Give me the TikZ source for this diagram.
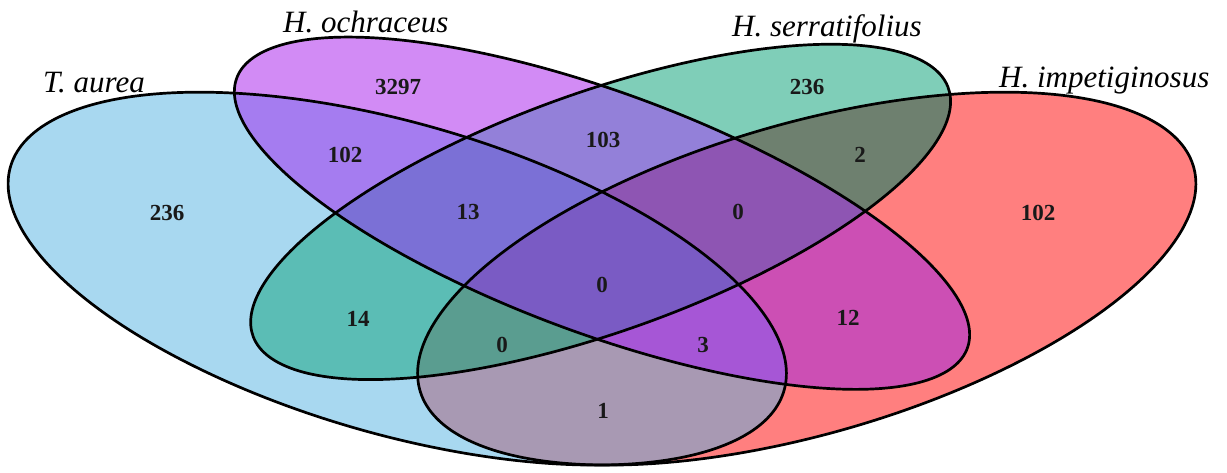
\documentclass[tikz,border=0pt]{standalone}
\usepackage{fontspec}
\setmainfont{Liberation Serif}
\definecolor{cA}{HTML}{A8D8F0}
\definecolor{cB}{HTML}{D28BF5}
\definecolor{cC}{HTML}{7FCEB8}
\definecolor{cD}{HTML}{FF7F7F}
\definecolor{cAB}{HTML}{A57CF0}
\definecolor{cAC}{HTML}{5BBDB5}
\definecolor{cAD}{HTML}{A899B3}
\definecolor{cBC}{HTML}{9380D9}
\definecolor{cBD}{HTML}{CC4FB4}
\definecolor{cCD}{HTML}{6E806F}
\definecolor{cABC}{HTML}{7B70D6}
\definecolor{cABD}{HTML}{A656D6}
\definecolor{cACD}{HTML}{5A9D90}
\definecolor{cBCD}{HTML}{8E55B3}
\definecolor{cABCD}{HTML}{7A5BC4}
\begin{document}
\begin{tikzpicture}[x=1pt,y=1pt,
  ellA/.style={rotate around={-45:(0.35,0.47)}, insert path={(0.35,0.47) ellipse [x radius=0.35, y radius=0.2]}},
  ellB/.style={rotate around={-45:(0.5,0.57)}, insert path={(0.5,0.57) ellipse [x radius=0.35, y radius=0.15]}},
  ellC/.style={rotate around={45:(0.499,0.572)}, insert path={(0.499,0.572) ellipse [x radius=0.33, y radius=0.15]}},
  ellD/.style={rotate around={45:(0.65,0.47)}, insert path={(0.65,0.47) ellipse [x radius=0.35, y radius=0.2]}},
  outline/.style={draw=black, line width=2.7pt},
  setlabel/.style={font=\fontsize{31}{31}\selectfont\itshape, anchor=base west, inner sep=0pt},
  count/.style={font=\fontsize{23}{23}\selectfont\bfseries, text=black!90, inner sep=0pt}]
\useasboundingbox (0,-472) rectangle (1227,0);
\fill[white] (0,-472) rectangle (1227,0);
\begin{scope}[shift={(-80.5,-586)}, xscale=1365, yscale=654]
  % single sets
  \fill[cA, ellA];
  \fill[cB, ellB];
  \fill[cC, ellC];
  \fill[cD, ellD];
  % pairs
  \begin{scope}\clip[ellA]; \fill[cAB, ellB];\end{scope}
  \begin{scope}\clip[ellA]; \fill[cAC, ellC];\end{scope}
  \begin{scope}\clip[ellA]; \fill[cAD, ellD];\end{scope}
  \begin{scope}\clip[ellB]; \fill[cBC, ellC];\end{scope}
  \begin{scope}\clip[ellB]; \fill[cBD, ellD];\end{scope}
  \begin{scope}\clip[ellC]; \fill[cCD, ellD];\end{scope}
  % triples
  \begin{scope}\clip[ellA]; \clip[ellB]; \fill[cABC, ellC];\end{scope}
  \begin{scope}\clip[ellA]; \clip[ellB]; \fill[cABD, ellD];\end{scope}
  \begin{scope}\clip[ellA]; \clip[ellC]; \fill[cACD, ellD];\end{scope}
  \begin{scope}\clip[ellB]; \clip[ellC]; \fill[cBCD, ellD];\end{scope}
  % all four
  \begin{scope}\clip[ellA]; \clip[ellB]; \clip[ellC]; \fill[cABCD, ellD];\end{scope}
  % outlines
  \path[outline, ellA];
  \path[outline, ellB];
  \path[outline, ellC];
  \path[outline, ellD];
\end{scope}
% set labels
\node[setlabel] (lA) at (43,-92) {T. aurea};
\node[setlabel] (lB) at (283,-32) {H. ochraceus};
\node[setlabel] (lC) at (732,-36) {H. serratifolius};
\node[setlabel] (lD) at (999,-87) {H. impetiginosus};
% counts
\node[count] (nB) at (398,-87) {3297};
\node[count] (nC) at (807,-87) {236};
\node[count] (nAB) at (345,-155) {102};
\node[count] (nCD) at (860,-155) {2};
\node[count] (nBC) at (603,-140) {103};
\node[count] (nA) at (167,-213) {236};
\node[count] (nABC) at (468,-212) {13};
\node[count] (nBCD) at (738,-212) {0};
\node[count] (nD) at (1038,-213) {102};
\node[count] (nABCD) at (602,-285) {0};
\node[count] (nAC) at (358,-319) {14};
\node[count] (nBD) at (848,-318) {12};
\node[count] (nACD) at (502,-345) {0};
\node[count] (nABD) at (703,-345) {3};
\node[count] (nAD) at (603,-411) {1};
\end{tikzpicture}
\end{document}
